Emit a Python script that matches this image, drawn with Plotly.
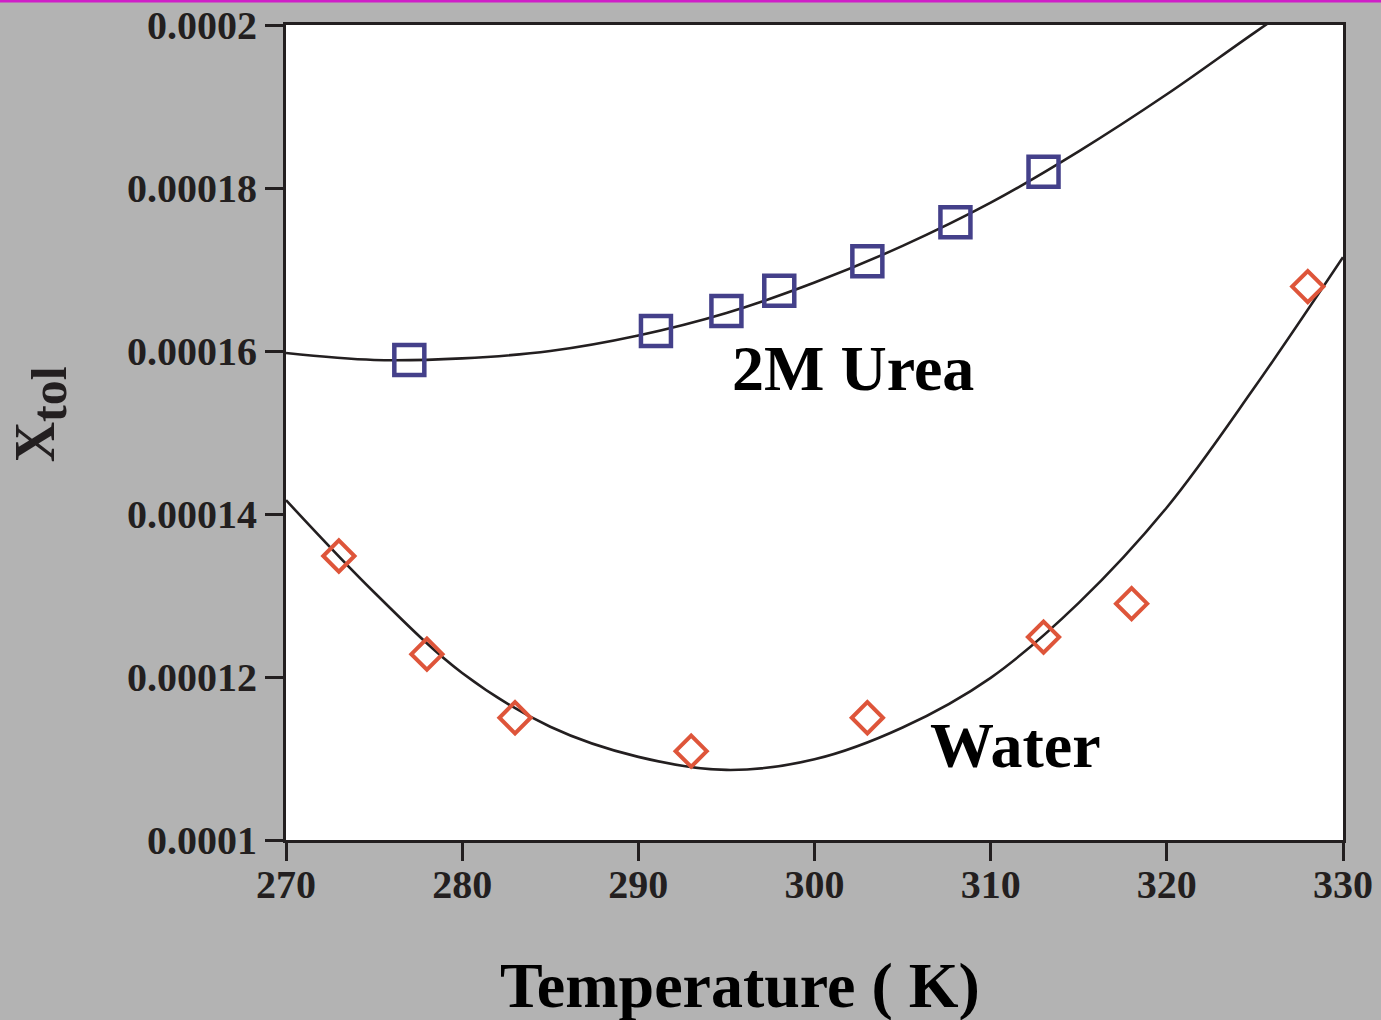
import plotly.graph_objects as go

# Measured mole fraction of toluene vs temperature
water_T = [273, 278, 283, 293, 303, 313, 318, 328]
water_X = [1.3485e-4, 1.228e-4, 1.150e-4, 1.109e-4, 1.150e-4, 1.249e-4, 1.290e-4, 1.679e-4]

urea_T = [277, 291, 295, 298, 303, 308, 313]
urea_X = [1.589e-4, 1.6245e-4, 1.649e-4, 1.674e-4, 1.710e-4, 1.758e-4, 1.820e-4]

# Fitted curves, sampled every 5 K along the drawn fit
fit_T = [270, 275, 280, 285, 290, 295, 300, 305, 310, 315, 320, 325, 330]
water_fit_X = [1.417e-4, 1.304e-4, 1.205e-4, 1.139e-4, 1.102e-4, 1.086e-4, 1.099e-4,
               1.138e-4, 1.199e-4, 1.291e-4, 1.408e-4, 1.556e-4, 1.715e-4]
urea_fit_X = [1.5975e-4, 1.589e-4, 1.591e-4, 1.600e-4, 1.619e-4, 1.6466e-4, 1.684e-4,
              1.729e-4, 1.782e-4, 1.845e-4, 1.915e-4, 1.991e-4, 2.065e-4]

x_ticks = [270, 280, 290, 300, 310, 320, 330]
y_ticks = [0.0001, 0.00012, 0.00014, 0.00016, 0.00018, 0.0002]
y_tick_text = ["0.0001", "0.00012", "0.00014", "0.00016", "0.00018", "0.0002"]

FONT = "Liberation Serif"
INK = "#231f20"

fig = go.Figure()

for fx in (water_fit_X, urea_fit_X):
    fig.add_trace(go.Scatter(
        x=fit_T, y=fx, mode="lines",
        line=dict(color=INK, width=2.6, shape="spline", smoothing=1.0),
        showlegend=False, hoverinfo="skip"))

fig.add_trace(go.Scatter(
    x=water_T, y=water_X, mode="markers", name="Water",
    marker=dict(symbol="diamond-open", size=24, color="#de553a",
                line=dict(color="#de553a", width=4)),
    showlegend=False))

fig.add_trace(go.Scatter(
    x=urea_T, y=urea_X, mode="markers", name="2M Urea",
    marker=dict(symbol="square-open", size=30, color="#44408a",
                line=dict(color="#44408a", width=4.5)),
    showlegend=False))

fig.add_annotation(x=302.2, y=1.579e-4, text="<b>2M Urea</b>", showarrow=False,
                   xanchor="center", yanchor="middle",
                   font=dict(family=FONT, size=64, color="black"))
fig.add_annotation(x=311.4, y=1.116e-4, text="<b>Water</b>", showarrow=False,
                   xanchor="center", yanchor="middle",
                   font=dict(family=FONT, size=64, color="black"))

# axis titles
fig.add_annotation(xref="paper", yref="paper", x=0.4295, y=-0.178,
                   text="<b>Temperature ( K)</b>", showarrow=False,
                   xanchor="center", yanchor="middle",
                   font=dict(family=FONT, size=64, color="black"))
fig.add_annotation(xref="paper", yref="paper", x=-0.232, y=0.522, textangle=-90,
                   text="<b>X<sub><span style='font-size:50px'>tol</span></sub></b>",
                   showarrow=False, xanchor="center", yanchor="middle",
                   font=dict(family=FONT, size=56, color=INK))

# thin magenta rule along the top of the page
fig.add_shape(type="line", xref="paper", yref="paper",
              x0=-0.3, x1=1.1, y0=1.0294, y1=1.0294,
              line=dict(color="#d01ec8", width=3))

fig.update_layout(
    width=1381, height=1020,
    margin=dict(l=286, r=38, t=25, b=180),
    paper_bgcolor="#b3b3b3",
    plot_bgcolor="white",
    font=dict(family=FONT, color=INK),
)

fig.update_xaxes(
    range=[270, 330], tickvals=x_ticks, ticktext=["<b>%d</b>" % t for t in x_ticks],
    ticks="outside", ticklen=18, tickwidth=3, ticklabelstandoff=-11,
    tickcolor=INK, showline=True, linecolor=INK, linewidth=3, mirror=True,
    showgrid=False, zeroline=False, automargin=False,
    tickfont=dict(family=FONT, size=40, color=INK),
)
fig.update_yaxes(
    range=[0.0001, 0.0002], tickvals=y_ticks, ticktext=["<b>%s</b>" % t for t in y_tick_text],
    ticks="outside", ticklen=18, tickwidth=3, tickcolor=INK,
    showline=True, linecolor=INK, linewidth=3, mirror=True,
    showgrid=False, zeroline=False, automargin=False,
    tickfont=dict(family=FONT, size=40, color=INK),
)

fig.write_html("out.html")
